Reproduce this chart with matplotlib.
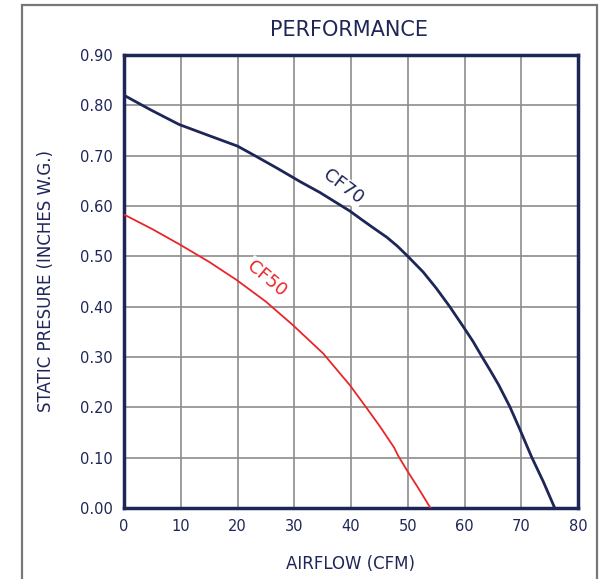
import matplotlib.pyplot as plt
from matplotlib.patches import Rectangle

# values
cf70_x = [0, 4.7, 9.7, 14.7, 20, 22.9, 27, 31.1, 34.5, 39.8, 42, 44, 46.3, 48.2, 50.1, 52.7, 55, 57.4,
          59.8, 61.5, 63, 64.5, 66, 68, 69.8, 71.8, 73.9, 75.9]
cf70_y = [0.820, 0.791, 0.762, 0.741, 0.719, 0.701, 0.675, 0.648, 0.627, 0.590, 0.572, 0.556, 0.538, 0.520,
          0.499, 0.469, 0.437, 0.400, 0.360, 0.331, 0.302, 0.274, 0.245, 0.201, 0.155, 0.102, 0.052, 0.0]

cf50_x = [0, 5, 9.75, 15, 19.85, 25, 29.7, 35.1, 39.8, 42.8, 45.1, 47.6, 48.3, 49.8, 52, 54.0]
cf50_y = [0.583, 0.554, 0.524, 0.489, 0.453, 0.410, 0.364, 0.307, 0.244, 0.198, 0.162, 0.120, 0.104, 0.076,
          0.037, 0.0]

x_ticks = [0, 10, 20, 30, 40, 50, 60, 70, 80]
y_ticks = [0.0, 0.1, 0.2, 0.3, 0.4, 0.5, 0.6, 0.7, 0.8, 0.9]

navy = '#1e2658'
red = '#e8262a'
grid_c = '#8c8c8c'

plt.rcParams['font.family'] = ['DejaVu Sans']

fig = plt.figure(figsize=(6.02, 5.79), dpi=100)
ax = fig.add_axes([124/602, 1-508/579, 454/602, 453/579])

# outer frame of the image
fig.patches.append(Rectangle((22/602, -0.05), 575/602, 1.05-5/579, transform=fig.transFigure,
                             fill=False, edgecolor='#777777', lw=1.6))

ax.plot(cf70_x, cf70_y, color=navy, lw=2.0, zorder=3, solid_joinstyle='round')
ax.plot(cf50_x, cf50_y, color=red, lw=1.3, zorder=3, solid_joinstyle='round')

ax.set_xlim(0, 80)
ax.set_ylim(0, 0.9)
ax.set_xticks(x_ticks)
ax.set_yticks(y_ticks)
ax.set_xticklabels([str(v) for v in x_ticks])
ax.set_yticklabels(['%.2f' % v for v in y_ticks])
ax.tick_params(length=0, labelsize=10.5, labelcolor=navy, pad=8)
ax.grid(True, color=grid_c, lw=1.2, zorder=1)
ax.set_axisbelow(True)
for s in ax.spines.values():
    s.set_color(navy)
    s.set_linewidth(2.5)

ax.text(38.6, 0.638, 'CF70', color=navy, fontsize=13, rotation=-37, ha='center', va='center',
        rotation_mode='anchor', zorder=4,
        bbox=dict(facecolor='white', edgecolor='none', pad=1))
ax.text(25.1, 0.456, 'CF50', color=red, fontsize=13, rotation=-40, ha='center', va='center',
        rotation_mode='anchor', zorder=4,
        bbox=dict(facecolor='white', edgecolor='none', pad=1))

ax.set_xlabel('AIRFLOW (CFM)', color=navy, fontsize=12, labelpad=15)
ax.set_ylabel('STATIC PRESURE (INCHES W.G.)', color=navy, fontsize=12, labelpad=18)
fig.text(349/602, 1-30/579, 'PERFORMANCE', color=navy, fontsize=15, ha='center', va='center')

plt.savefig('out.png', dpi=100)
